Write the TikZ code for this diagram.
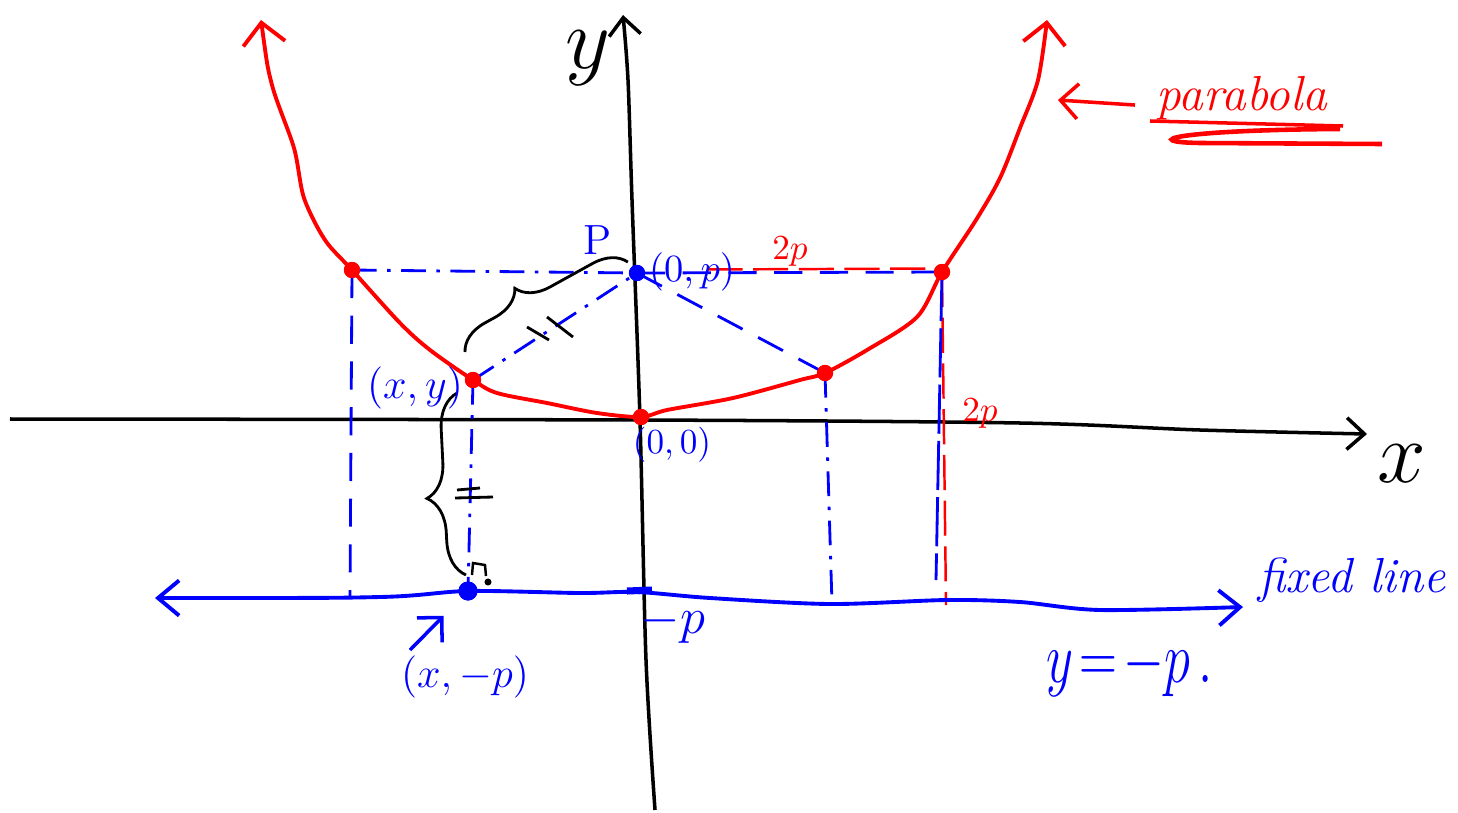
\documentclass[tikz,border=0pt]{standalone}
\usepackage{tikz}
\usetikzlibrary{arrows.meta,decorations.pathreplacing}
\definecolor{penred}{HTML}{FF0000}
\definecolor{penblue}{HTML}{0000FF}
\tikzset{
  axisline/.style={line width=1pt,black,-{Straight Barb[length=5pt,width=9pt]}},
  parab/.style={line width=1.1pt,penred,
    {Straight Barb[length=6pt,width=12pt]}-{Straight Barb[length=6pt,width=12pt]}},
  dirline/.style={line width=1.1pt,penblue,
    {Straight Barb[length=6pt,width=10pt]}-{Straight Barb[length=6pt,width=10pt]}},
  guide/.style={line width=0.8pt,penblue,dash pattern=on 8pt off 5pt},
  guidedot/.style={line width=0.8pt,penblue,dash pattern=on 7pt off 3pt on 1pt off 3pt},
  redguide/.style={line width=0.7pt,penred,dash pattern=on 10pt off 3pt},
  rdot/.style={circle,fill=penred,inner sep=0pt,minimum size=4.6pt},
  bdot/.style={circle,fill=penblue,inner sep=0pt,minimum size=4.6pt},
  lblblue/.style={text=penblue,inner sep=1pt},
  lblred/.style={text=penred,inner sep=1pt},
  penarrow/.style={line width=1pt,-{Straight Barb[length=5pt,width=10pt]}},
  bracemark/.style={line width=0.8pt,black,decorate},
}

\begin{document}
\begin{tikzpicture}[x=0.01cm,y=-0.01cm]
  \useasboundingbox (0,0) rectangle (1458,812);
  % axes
  \draw[axisline] plot[smooth] coordinates {(10,419) (640,420) (1020,423) (1200,430) (1367,434)};
  \draw[axisline] plot[smooth] coordinates {(655,810) (646,660) (640,420) (632,200) (628,80) (623,15)};
  \node (xlab) at (1402,464) {\fontsize{28}{30}\selectfont$x$};
  \node (ylab) at (588,58) {\fontsize{32}{34}\selectfont$y$};

  % points on the parabola, focus and foot
  \node[rdot] (L) at (352,270) {};
  \node[rdot] (P) at (473,380) {};
  \node[rdot] (V) at (641,417) {};
  \node[rdot] (Q) at (825,373) {};
  \node[rdot] (R) at (942,272) {};
  \node[bdot] (F) at (637,273) {};
  \node[bdot,minimum size=5.4pt] (D) at (468,591) {};
  \coordinate (Lf) at (350,596);
  \coordinate (Qf) at (832,604);
  \coordinate (Rf) at (936,580);
  \coordinate (Rr) at (946,605);

  % guide lines
  \draw[guidedot] (L.center) -- (F.center);
  \draw[guide] (F.center) -- (R.center);
  \draw[redguide] ([xshift=20pt,yshift=1pt]F.center) -- ([yshift=1pt]R.center);
  \draw[guide] (L.center) -- (Lf);
  \draw[guidedot] (P.center) -- (D.center);
  \draw[guidedot] (P.center) -- (F.center);
  \draw[guide] (F.center) -- (Q.center);
  \draw[guidedot] (Q.center) -- (Qf);
  \draw[redguide] (R.center) -- (Rr);
  \draw[guide,dash pattern=on 14pt off 2pt] (R.center) -- (Rf);

  % parabola
  \draw[parab] plot[smooth] coordinates {(261,20) (272,85) (294,148) (304,198)
    (325,240) (352,270) (400,323) (430,350) (473,380)
    (497,393) (547,403) (597,413) (641,417) (667,410) (733,398) (800,380) (825,373)
    (867,350) (917,317) (942,272) (976,220) (1000,178) (1020,128) (1038,80) (1047,20)};

  % fixed line
  \draw[dirline] plot[smooth] coordinates {(155,598) (380,597) (468,591) (580,593) (637,592)
    (710,598) (830,604) (947,600) (1020,602) (1100,610) (1243,607)};
  \draw[penblue,line width=2pt] (627,591) -- (652,590);

  % redraw dots on top
  \foreach \p in {(352,270),(473,380),(641,417),(825,373),(942,272)}
    \node[rdot] at \p {};
  \node[bdot] at (637,273) {};
  \node[bdot,minimum size=5.4pt] at (468,591) {};

  % braces and equal marks
  \coordinate (b1s) at (465,352);
  \coordinate (b1e) at (628,262);
  \draw[bracemark,decoration={brace,amplitude=9pt,aspect=0.4}] (b1s) -- (b1e);
  \coordinate (b2s) at (466,575);
  \coordinate (b2e) at (457,393);
  \draw[bracemark,decoration={brace,amplitude=10pt,aspect=0.43}] (b2s) -- (b2e);
  \draw[line width=0.8pt] (527,327) -- (549,340);
  \draw[line width=0.8pt] (547,317) -- (573,337);
  \draw[line width=0.8pt] (457,490) -- (480,488);
  \draw[line width=0.8pt] (455,498) -- (493,497);
  \draw[line width=0.7pt] (472,575) -- (473,563) -- (485,565) -- (486,576);
  \fill (488,582) circle[radius=1pt];

  % labels
  \node[lblblue] (ptl) at (598,240) {\fontsize{12}{14}\selectfont P};
  \node[lblblue,anchor=west] (fl) at (645,272) {\fontsize{11}{13}\selectfont$(0,p)$};
  \node[lblblue] (ol) at (672,445) {\fontsize{10}{12}\selectfont$(0,0)$};
  \node[lblblue] (pl) at (415,388) {\fontsize{13}{15}\selectfont$(x,y)$};
  \node[lblblue] (dl) at (465,677) {\fontsize{12}{14}\selectfont$(x,-p)$};
  \node[lblblue] (mp) at (673,624) {\fontsize{14}{16}\selectfont$-p$};
  \node[lblred] (tp1) at (790,252) {\fontsize{10}{12}\selectfont$2p$};
  \node[lblred] (tp2) at (980,414) {\fontsize{10}{12}\selectfont$2p$};
  \node[lblblue] (fx) at (1352,580) {\fontsize{14}{16}\selectfont\itshape fixed line};
  \node[lblblue] (eq) at (1130,668) {\scalebox{0.72}[1]{\fontsize{22}{24}\selectfont$y\!=\!-p\,.$}};
  \node[lblred] (pb) at (1242,98) {\fontsize{14}{16}\selectfont\itshape parabola};

  \coordinate (pa) at (410,650);
  \draw[penarrow,penblue,shorten >=7pt] (pa) -- (D);
  \draw[penarrow,penred] ([xshift=-5pt,yshift=-2pt]pb.west) -- ++(-77,-5);
  \draw[penred,line width=1pt] (1150,121) -- (1343,126);
  \draw[penred,line width=1.3pt] (1340,129) .. controls (1170,130) and (1140,142) .. (1200,143) -- (1382,144);
\end{tikzpicture}
\end{document}
